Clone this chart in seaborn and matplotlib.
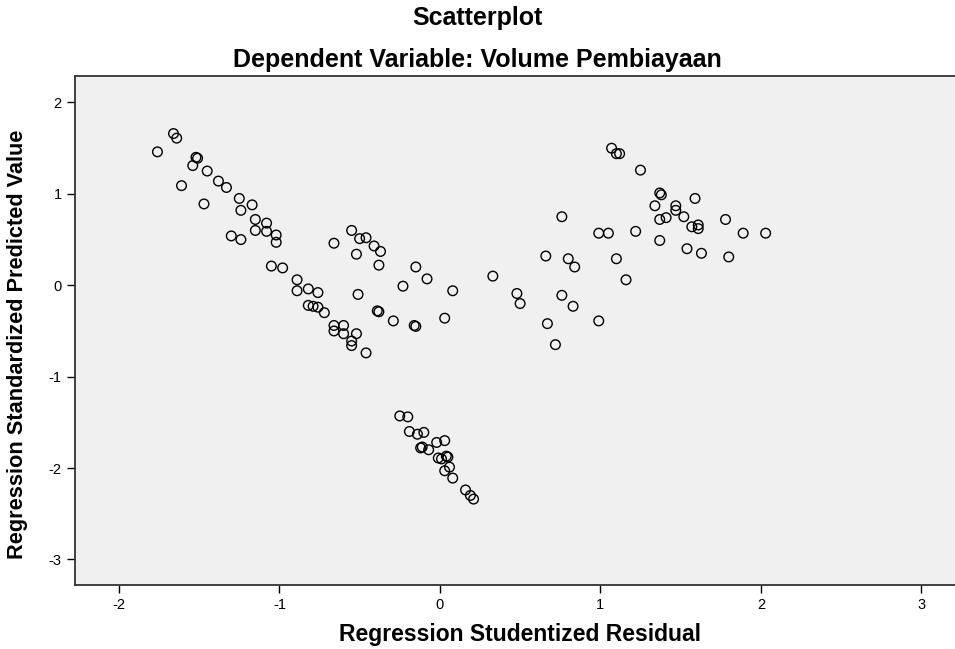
import numpy as np
import pandas as pd
import matplotlib
matplotlib.use("Agg")
import matplotlib.pyplot as plt
import seaborn as sns

# Regression Studentized Residual (x) vs Regression Standardized Predicted Value (y)
residual = [
    -1.66, -1.64, -1.76, -1.52, -1.51, -1.54, -1.45, -1.61, -1.38, -1.33,
    -1.47, -1.25, -1.17, -1.24, -1.15, -1.08, -1.15, -1.08, -1.02, -1.02,
    -1.30, -1.24, -1.05, -0.98,
    -0.55, -0.66, -0.50, -0.46, -0.41, -0.37, -0.52, -0.38, -0.15, -0.08,
    -0.23, 0.08, -0.89, -0.89, -0.82, -0.76, -0.51, -0.82, -0.79, -0.76,
    -0.72, -0.39, -0.38, -0.29, -0.16, -0.15, 0.03, -0.66, -0.66, -0.60,
    -0.60, -0.52, -0.55, -0.55, -0.46,
    -0.25, -0.20, -0.19, -0.14, -0.10, -0.12, -0.11, -0.07, -0.02, 0.03,
    -0.01, 0.04, 0.05, 0.01, 0.06, 0.03, 0.08, 0.16, 0.19, 0.21,
    0.76, 0.99, 1.05, 0.66, 0.80, 0.84, 1.10, 0.33, 0.48, 0.50,
    0.76, 0.83, 0.99, 0.67, 0.72,
    1.07, 1.10, 1.12, 1.25, 1.37, 1.38, 1.59, 1.34, 1.47, 1.47,
    1.41, 1.37, 1.52, 1.57, 1.61, 1.61, 1.78, 1.22, 1.37, 1.89,
    2.03, 1.54, 1.63, 1.80, 1.16,
]
predicted = [
    1.66, 1.61, 1.46, 1.40, 1.39, 1.31, 1.25, 1.09, 1.14, 1.07,
    0.89, 0.95, 0.88, 0.82, 0.72, 0.68, 0.60, 0.59, 0.55, 0.47,
    0.54, 0.50, 0.21, 0.19,
    0.60, 0.46, 0.51, 0.52, 0.43, 0.37, 0.34, 0.22, 0.20, 0.07,
    -0.01, -0.06, 0.06, -0.06, -0.04, -0.08, -0.10, -0.22, -0.23, -0.24,
    -0.30, -0.28, -0.29, -0.39, -0.44, -0.45, -0.36, -0.44, -0.50, -0.44,
    -0.53, -0.53, -0.61, -0.66, -0.74,
    -1.43, -1.44, -1.60, -1.63, -1.61, -1.78, -1.77, -1.80, -1.72, -1.70,
    -1.89, -1.87, -1.88, -1.90, -1.99, -2.03, -2.11, -2.24, -2.30, -2.34,
    0.75, 0.57, 0.57, 0.32, 0.29, 0.20, 0.29, 0.10, -0.09, -0.20,
    -0.11, -0.23, -0.39, -0.42, -0.65,
    1.50, 1.44, 1.44, 1.26, 1.01, 0.99, 0.95, 0.87, 0.87, 0.82,
    0.74, 0.72, 0.75, 0.64, 0.66, 0.62, 0.72, 0.59, 0.49, 0.57,
    0.57, 0.40, 0.35, 0.31, 0.06,
]

df = pd.DataFrame({"resid": residual, "pred": predicted})

x_ticks = [-2, -1, 0, 1, 2, 3]
y_ticks = [-3, -2, -1, 0, 1, 2]

sns.set_style("ticks")
plt.rcParams["font.family"] = ["Liberation Sans", "DejaVu Sans"]
plt.rcParams["axes.unicode_minus"] = False
plt.rcParams["text.color"] = "black"
plt.rcParams["axes.labelcolor"] = "black"

fig = plt.figure(figsize=(9.55, 6.49), dpi=100)
ax = fig.add_axes([0.0785, 0.0986, 0.9215, 0.7843])
ax.set_facecolor("#F0F0F0")

sns.scatterplot(data=df, x="resid", y="pred", ax=ax, marker="o",
                color="none", edgecolor="black", linewidth=1.0, s=48)

ax.set_xlim(-2.274, 3.21)
ax.set_ylim(-3.28, 2.29)
ax.set_xticks(x_ticks)
ax.set_yticks(y_ticks)
ax.tick_params(axis="both", direction="out", length=6, width=1, labelsize=10.5,
               colors="black")

for side in ["left", "bottom", "top"]:
    ax.spines[side].set_color("#333333")
    ax.spines[side].set_linewidth(1.3)
ax.spines["right"].set_visible(False)

ax.set_xlabel("Regression Studentized Residual", fontsize=16.5, fontweight="bold")
ax.set_ylabel("Regression Standardized Predicted Value", fontsize=15.7, fontweight="bold")
ax.xaxis.set_label_coords(0.5057, -0.098)
ax.yaxis.set_label_coords(-0.0648, 0.4735)
ax.xaxis.label.set_va("center")
ax.yaxis.label.set_va("center")

fig.text(0.5, 1 - 18 / 649, "Scatterplot", ha="center", va="center", fontsize=18, fontweight="bold")
fig.text(0.5, 1 - 60 / 649, "Dependent Variable: Volume Pembiayaan", ha="center", va="center",
         fontsize=18, fontweight="bold")

fig.savefig("out.png", dpi=100)
